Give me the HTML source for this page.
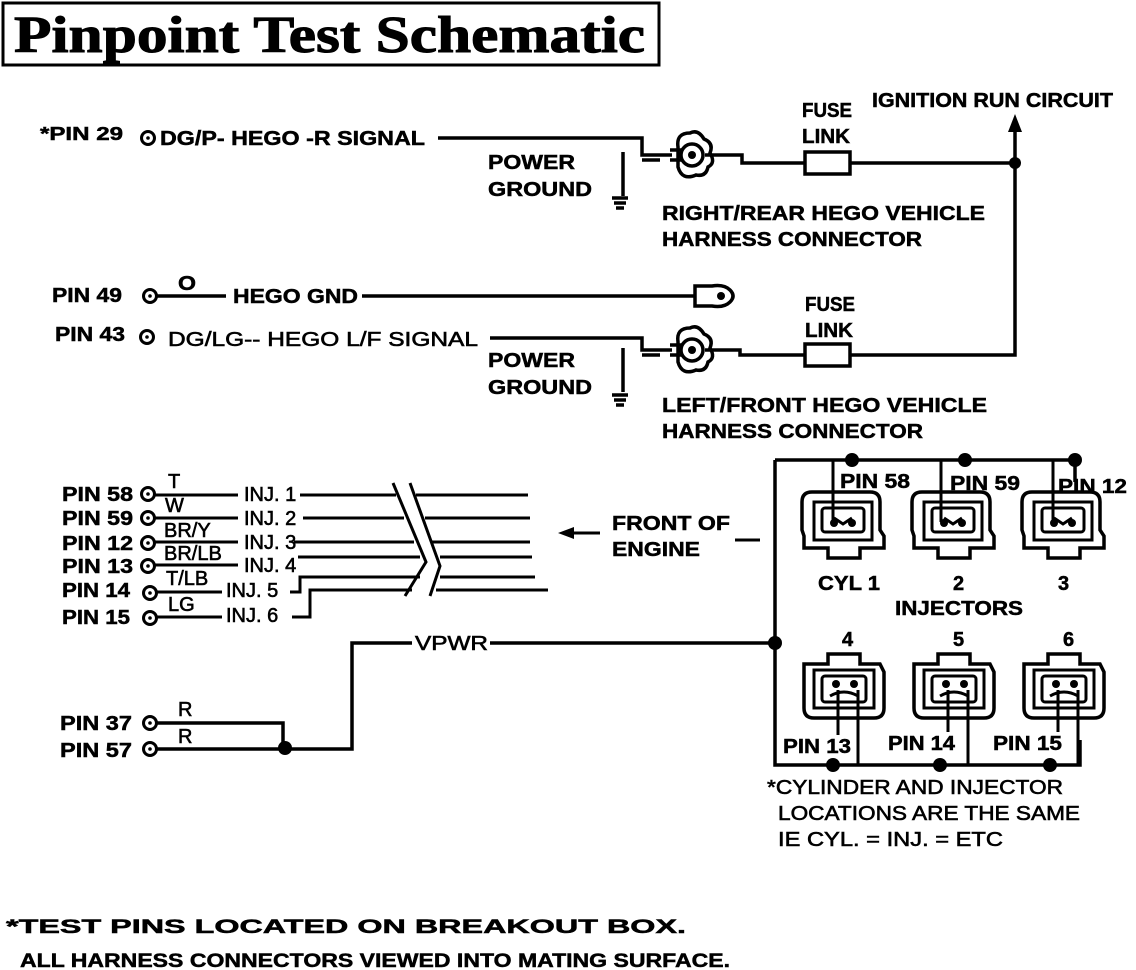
<!DOCTYPE html>
<html><head><meta charset="utf-8"><style>
html,body{margin:0;padding:0;background:#fff}
svg{display:block}
text{font-family:"Liberation Sans",sans-serif;font-weight:bold;font-size:20px;fill:#000;stroke:#000;stroke-width:0.5}
.n{font-weight:normal;stroke-width:0.6}
.l{stroke:#000;stroke-width:3;fill:none}
.t{stroke:#000;stroke-width:3.5;fill:none}
</style></head><body>
<svg width="1136" height="970" viewBox="0 0 1136 970">
<defs>
<g id="injT">
<path class="t" d="M2,12 Q2,2 12,2 H70 Q80,2 80,12 V40 L84,46 V58 H60 V68 H28 V58 H4 V46 L2,40 Z"/>
<rect class="l" x="14" y="12" width="58" height="38"/>
<rect class="l" x="22" y="18" width="42" height="24" rx="3"/>
<circle cx="34" cy="33" r="4"/><circle cx="52" cy="33" r="4"/>
<path class="l" d="M34,28 L43,34 L52,28"/>
</g>
<g id="injB">
<path class="t" d="M4,12 H28 V2 H60 V12 H80 L84,20 V56 Q84,66 74,66 H14 Q4,66 4,56 Z"/>
<rect class="l" x="14" y="18" width="60" height="38"/>
<rect class="l" x="22" y="24" width="44" height="26" rx="3"/>
<circle cx="36" cy="32" r="4"/><circle cx="54" cy="32" r="4"/>
<path class="l" d="M30,44 Q44,36 58,44"/>
</g>
<g id="hego">
<path class="t" d="M-20,-5 H-8 M-20,5 H-8"/>
<path class="t" d="M-12,-8 Q-14,-22 0,-22 Q8,-26 14,-16 Q24,-12 20,-2 Q26,8 18,12 Q16,22 6,20 Q-8,26 -12,12 Z"/>
<circle class="t" cx="2" cy="0" r="11"/>
<circle cx="2" cy="0" r="4"/>
</g>
<g id="gnd">
<path class="t" d="M-8,0 H8 M-6,5 H6 M-4,10 H4"/>
</g>
<g id="pc"><circle cx="0" cy="0" r="6.5" fill="none" stroke="#000" stroke-width="3"/><circle cx="0" cy="0" r="1.8"/></g>
</defs>

<!-- title -->
<rect x="3" y="3" width="656" height="62" fill="none" stroke="#000" stroke-width="3"/>
<text x="14" y="52" textLength="631" lengthAdjust="spacingAndGlyphs" style="font-family:'Liberation Serif',serif;font-size:52px;font-weight:bold;stroke-width:1">Pinpoint  Test  Schematic</text>

<!-- top HEGO -->
<text x="40" y="140" textLength="83" lengthAdjust="spacingAndGlyphs" style="font-size:18px">*PIN 29</text>
<use href="#pc" x="148" y="138"/>
<text x="160" y="145" textLength="265" lengthAdjust="spacingAndGlyphs">DG/P- HEGO -R SIGNAL</text>
<path class="t" d="M438,138 H642 V155 H672 M623,152 V196 M642,160 H660"/>
<use href="#gnd" x="620" y="198"/>
<use href="#hego" x="690" y="155"/>
<path class="t" d="M705,155 H742 V163 H805 M850,163 H1015"/>
<rect class="t" x="805" y="152" width="45" height="22"/>
<circle cx="1015" cy="163" r="6"/>
<path class="t" d="M1015,130 V355 H850"/>
<path d="M1015,114 L1008,132 H1022 Z"/>
<text x="488" y="169" textLength="87" lengthAdjust="spacingAndGlyphs">POWER</text>
<text x="488" y="196" textLength="104" lengthAdjust="spacingAndGlyphs">GROUND</text>
<text x="802" y="117" textLength="50" lengthAdjust="spacingAndGlyphs">FUSE</text>
<text x="802" y="143" textLength="48" lengthAdjust="spacingAndGlyphs">LINK</text>
<text x="872" y="107" textLength="241" lengthAdjust="spacingAndGlyphs">IGNITION RUN CIRCUIT</text>
<text x="662" y="220" textLength="323" lengthAdjust="spacingAndGlyphs">RIGHT/REAR HEGO VEHICLE</text>
<text x="662" y="246" textLength="260" lengthAdjust="spacingAndGlyphs">HARNESS CONNECTOR</text>

<!-- HEGO GND -->
<text x="52" y="302" textLength="70" lengthAdjust="spacingAndGlyphs">PIN 49</text>
<use href="#pc" x="150" y="296"/>
<text x="178" y="290" textLength="18" lengthAdjust="spacingAndGlyphs">O</text>
<path class="t" d="M157,296 H226 M362,296 H695"/>
<text x="233" y="303" textLength="125" lengthAdjust="spacingAndGlyphs">HEGO GND</text>
<path class="t" d="M695,286 H712 Q724,284 730,290 Q736,296 730,302 Q724,308 712,306 H695 Z"/>
<circle cx="721" cy="296" r="4"/>

<!-- lower HEGO -->
<text x="55" y="341" textLength="70" lengthAdjust="spacingAndGlyphs">PIN 43</text>
<use href="#pc" x="147" y="337"/>
<text class="n" x="168" y="346" textLength="310" lengthAdjust="spacingAndGlyphs">DG/LG-- HEGO L/F SIGNAL</text>
<path class="t" d="M490,338 H642 V350 H672 M623,348 V392 M642,355 H660"/>
<use href="#gnd" x="620" y="395"/>
<use href="#hego" x="690" y="350"/>
<path class="t" d="M705,350 H740 V355 H805"/>
<rect class="t" x="805" y="344" width="45" height="22"/>
<text x="488" y="367" textLength="87" lengthAdjust="spacingAndGlyphs">POWER</text>
<text x="488" y="394" textLength="104" lengthAdjust="spacingAndGlyphs">GROUND</text>
<text x="805" y="311" textLength="50" lengthAdjust="spacingAndGlyphs">FUSE</text>
<text x="805" y="337" textLength="48" lengthAdjust="spacingAndGlyphs">LINK</text>
<text x="662" y="412" textLength="325" lengthAdjust="spacingAndGlyphs">LEFT/FRONT HEGO VEHICLE</text>
<text x="662" y="438" textLength="261" lengthAdjust="spacingAndGlyphs">HARNESS CONNECTOR</text>

<!-- injector pins -->
<g>
<text x="62" y="501" textLength="71" lengthAdjust="spacingAndGlyphs">PIN 58</text>
<text x="62" y="525" textLength="71" lengthAdjust="spacingAndGlyphs">PIN 59</text>
<text x="62" y="550" textLength="71" lengthAdjust="spacingAndGlyphs">PIN 12</text>
<text x="62" y="573" textLength="71" lengthAdjust="spacingAndGlyphs">PIN 13</text>
<text x="62" y="597" textLength="68" lengthAdjust="spacingAndGlyphs">PIN 14</text>
<text x="62" y="624" textLength="68" lengthAdjust="spacingAndGlyphs">PIN 15</text>
<use href="#pc" x="148" y="494"/><use href="#pc" x="148" y="518"/>
<use href="#pc" x="148" y="543"/><use href="#pc" x="148" y="566"/>
<use href="#pc" x="150" y="593"/><use href="#pc" x="150" y="618"/>
<text class="n" x="168" y="488">T</text>
<text class="n" x="165" y="512">W</text>
<text class="n" x="164" y="537">BR/Y</text>
<text class="n" x="164" y="560">BR/LB</text>
<text class="n" x="166" y="585">T/LB</text>
<text class="n" x="168" y="611">LG</text>
<path class="l" d="M154,495 H238 M154,518 H238 M154,542 H238 M154,565 H238 M156,592 H222 M156,617 H222"/>
<text class="n" x="244" y="501">INJ. 1</text>
<text class="n" x="244" y="525">INJ. 2</text>
<text class="n" x="244" y="549">INJ. 3</text>
<text class="n" x="244" y="572">INJ. 4</text>
<text class="n" x="226" y="597">INJ. 5</text>
<text class="n" x="226" y="622">INJ. 6</text>
<path class="l" d="M300,495 H396 M416,495 H528 M303,518 H404 M425,518 H530 M294,542 H414 M432,542 H530 M298,557 H420 M440,557 H532 M290,592 H300 V577 H420 M440,577 H535 M292,617 H310 V590 H412 M436,590 H548"/>
<path class="l" d="M393,483 L426,562 L405,596 M410,483 L440,566 L430,596"/>
</g>
<text x="612" y="530" textLength="118" lengthAdjust="spacingAndGlyphs">FRONT OF</text>
<text x="612" y="556" textLength="88" lengthAdjust="spacingAndGlyphs">ENGINE</text>
<path class="l" d="M600,533 H570 M735,540 H760"/>
<path d="M558,533 L574,527 V539 Z"/>

<!-- VPWR -->
<text x="60" y="730" textLength="72" lengthAdjust="spacingAndGlyphs">PIN 37</text>
<text x="60" y="757" textLength="72" lengthAdjust="spacingAndGlyphs">PIN 57</text>
<use href="#pc" x="150" y="723"/><use href="#pc" x="150" y="749"/>
<text class="n" x="178" y="716">R</text>
<text class="n" x="178" y="743">R</text>
<path class="t" d="M156,723 H283 V748 M156,749 H352 V643 H412 M490,643 H775"/>
<circle cx="285" cy="748" r="7"/>
<text class="n" x="415" y="650" textLength="73" lengthAdjust="spacingAndGlyphs">VPWR</text>
<circle cx="775" cy="643" r="7"/>

<!-- injector bus -->
<path class="t" d="M775,460 V765 H1080 V740 M775,460 H1075 V482"/>
<circle cx="852" cy="460" r="7"/><circle cx="965" cy="460" r="7"/><circle cx="1075" cy="460" r="7"/>
<circle cx="833" cy="765" r="7"/><circle cx="940" cy="765" r="7"/><circle cx="1050" cy="765" r="7"/>
<use href="#injT" x="800" y="490"/>
<use href="#injT" x="910" y="490"/>
<use href="#injT" x="1020" y="490"/>
<use href="#injB" x="800" y="652"/>
<use href="#injB" x="910" y="652"/>
<use href="#injB" x="1020" y="652"/>
<path class="l" d="M833,460 V522 M941,460 V522 M1053,460 V522 M838,690 V740 M858,690 V765 M948,690 V740 M968,690 V765 M1058,690 V740 M1078,690 V765"/>
<text x="840" y="488" textLength="70" lengthAdjust="spacingAndGlyphs">PIN 58</text>
<text x="950" y="490" textLength="70" lengthAdjust="spacingAndGlyphs">PIN 59</text>
<text x="1058" y="493" textLength="69" lengthAdjust="spacingAndGlyphs">PIN 12</text>
<text x="818" y="590" textLength="62" lengthAdjust="spacingAndGlyphs">CYL 1</text>
<text x="953" y="590">2</text>
<text x="1058" y="590">3</text>
<text x="895" y="615" textLength="128" lengthAdjust="spacingAndGlyphs">INJECTORS</text>
<text x="842" y="646">4</text><text x="953" y="646">5</text><text x="1063" y="646">6</text>
<rect x="782" y="735" width="70" height="22" fill="#fff"/>
<rect x="887" y="732" width="69" height="22" fill="#fff"/>
<rect x="992" y="732" width="71" height="22" fill="#fff"/>
<text x="783" y="753" textLength="68" lengthAdjust="spacingAndGlyphs">PIN 13</text>
<text x="888" y="750" textLength="67" lengthAdjust="spacingAndGlyphs">PIN 14</text>
<text x="993" y="750" textLength="69" lengthAdjust="spacingAndGlyphs">PIN 15</text>
<text class="n" x="767" y="794" textLength="296" lengthAdjust="spacingAndGlyphs">*CYLINDER AND INJECTOR</text>
<text class="n" x="778" y="820" textLength="302" lengthAdjust="spacingAndGlyphs">LOCATIONS ARE THE SAME</text>
<text class="n" x="778" y="846" textLength="225" lengthAdjust="spacingAndGlyphs">IE CYL. = INJ. = ETC</text>

<!-- footer -->
<text x="6" y="933" textLength="680" lengthAdjust="spacingAndGlyphs" style="font-size:19px">*TEST PINS LOCATED ON BREAKOUT BOX.</text>
<text x="20" y="967" textLength="710" lengthAdjust="spacingAndGlyphs" style="font-size:19px">ALL HARNESS CONNECTORS VIEWED INTO MATING SURFACE.</text>
</svg>
</body></html>
